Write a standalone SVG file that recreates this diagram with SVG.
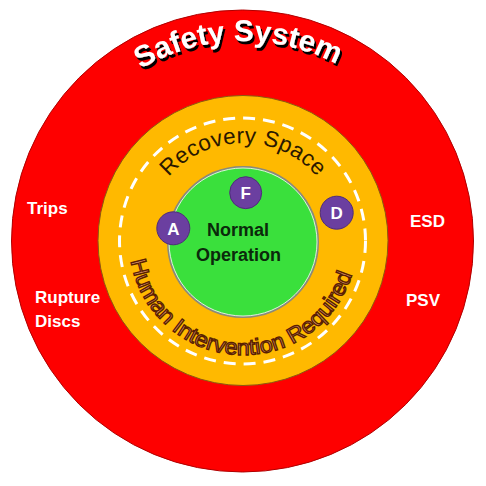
<svg xmlns="http://www.w3.org/2000/svg" xmlns:xlink="http://www.w3.org/1999/xlink" width="486" height="486" viewBox="0 0 486 486">
<style>
.side{font-family:"Liberation Sans",Arial,sans-serif;font-weight:bold;font-size:17px;fill:#ffffff}
.badge{fill:#6b3fa0;stroke:#4e2c7a;stroke-width:1}
.badgeText{font-family:"Liberation Sans",Arial,sans-serif;font-weight:bold;font-size:17px;fill:#ffffff;text-anchor:middle}
.title{font-family:"Liberation Sans",Arial,sans-serif;font-weight:bold;font-size:30px;fill:#ffffff}
</style>
<defs>
<path id="arcSafety" d="M 43,241 A 200 200 0 0 1 443,241"/>
<path id="arcRecovery" d="M 145,241 A 98 98 0 0 1 341,241"/>
<path id="arcHuman" d="M 129,241 A 114 114 0 0 0 357,241"/>
<filter id="shadow" x="-10%" y="-30%" width="120%" height="160%">
<feOffset in="SourceAlpha" dx="2" dy="2.5" result="off"/>
<feFlood flood-color="#000000"/>
<feComposite in2="off" operator="in" result="sh"/>
<feMerge><feMergeNode in="sh"/><feMergeNode in="SourceGraphic"/></feMerge>
</filter>
</defs>
<rect width="486" height="486" fill="#ffffff"/>
<g id="safety-system">
<circle cx="242.5" cy="241" r="231" fill="#fe0000" stroke="#b00000" stroke-width="1"/>
<text class="title" filter="url(#shadow)"><textPath xlink:href="#arcSafety" startOffset="309" text-anchor="middle">Safety System</textPath></text>
<text class="side" x="27" y="214">Trips</text>
<text class="side" x="35" y="303">Rupture</text>
<text class="side" x="35" y="327">Discs</text>
<text class="side" x="410" y="227">ESD</text>
<text class="side" x="406" y="306">PSV</text>
</g>
<g id="recovery-space">
<circle cx="243" cy="240.5" r="145" fill="#ffb900" stroke="#8a5a10" stroke-width="1"/>
<circle cx="242.5" cy="241" r="123" fill="none" stroke="#ffffff" stroke-width="3" stroke-dasharray="12 8"/>
<text font-family="'Liberation Sans',Arial,sans-serif" font-size="22.5" fill="#2a1800"><textPath xlink:href="#arcRecovery" startOffset="50%" text-anchor="middle" textLength="168" lengthAdjust="spacing">Recovery Space</textPath></text>
<text font-family="'Liberation Sans',Arial,sans-serif" font-size="22" fill="#e09a70" stroke="#5a2000" stroke-width="1.3"><textPath xlink:href="#arcHuman" startOffset="172" text-anchor="middle" textLength="304" lengthAdjust="spacingAndGlyphs">Human Intervention Required</textPath></text>
</g>
<g id="normal-operation">
<circle cx="243" cy="242" r="75" fill="#3ae03c" stroke="#8a8a7a" stroke-width="2"/>
<circle cx="243" cy="242" r="74" fill="none" stroke="#ffffff" stroke-width="0.8"/>
<text font-family="'Liberation Sans',Arial,sans-serif" font-weight="bold" font-size="18" fill="#0b2a0b" text-anchor="middle"><tspan x="238" y="236">Normal</tspan><tspan x="238.5" y="261">Operation</tspan></text>
</g>
<g id="node-F">
<circle class="badge" cx="245.7" cy="192.7" r="16"/>
<text class="badgeText" x="245.7" y="199">F</text>
</g>
<g id="node-A">
<circle class="badge" cx="173.3" cy="228.3" r="16.5"/>
<text class="badgeText" x="173.3" y="234.5">A</text>
</g>
<g id="node-D">
<circle class="badge" cx="336.7" cy="212.7" r="16.5"/>
<text class="badgeText" x="336.7" y="219" font-family="'Liberation Serif',serif">D</text>
</g>
<g id="connectors"/>
</svg>
